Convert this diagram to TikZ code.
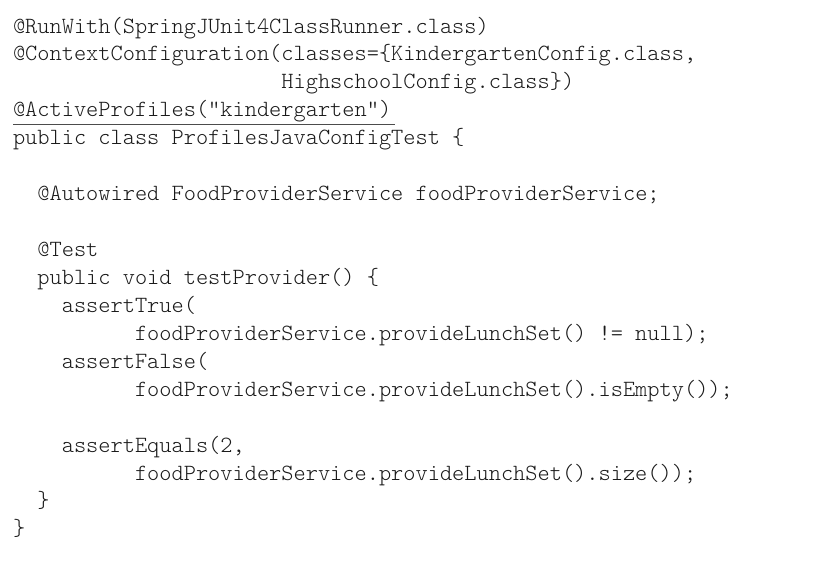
\documentclass[tikz,border=0pt]{standalone}
\usepackage{fontspec}
\setmonofont{Latin Modern Mono Light}
\usetikzlibrary{calc}
\tikzset{
  codeline/.style={anchor=base west, inner sep=0pt, outer sep=0pt, text=black!90,
    font=\ttfamily\fontsize{23.24}{28}\selectfont},
  uline/.style={draw=black!70, line width=1pt}
}
\newcommand{\colx}[1]{13+#1*12.2}
\newcommand{\rowy}[1]{33+#1*27.94}
\begin{document}
\begin{tikzpicture}[x=1pt,y=-1pt]
\useasboundingbox[fill=white] (0,0) rectangle (834,560);
\node[codeline] (l0) at ({\colx{0}},{\rowy{0}}) {@RunWith(SpringJUnit4ClassRunner.class)};
\node[codeline] (l1) at ({\colx{0}},{\rowy{1}}) {@ContextConfiguration(classes=\{KindergartenConfig.class,};
\node[codeline] (l2) at ({\colx{22}},{\rowy{2}}) {HighschoolConfig.class\})};
\node[codeline] (l3) at ({\colx{0}},{\rowy{3}}) {@ActiveProfiles("kindergarten")};
\node[codeline] (l4) at ({\colx{0}},{\rowy{4}}) {public class ProfilesJavaConfigTest \{};
\node[codeline] (l6) at ({\colx{2}},{\rowy{6}}) {@Autowired FoodProviderService foodProviderService;};
\node[codeline] (l8) at ({\colx{2}},{\rowy{8}}) {@Test};
\node[codeline] (l9) at ({\colx{2}},{\rowy{9}}) {public void testProvider() \{};
\node[codeline] (l10) at ({\colx{4}},{\rowy{10}}) {assertTrue(};
\node[codeline] (l11) at ({\colx{10}},{\rowy{11}}) {foodProviderService.provideLunchSet() != null);};
\node[codeline] (l12) at ({\colx{4}},{\rowy{12}}) {assertFalse(};
\node[codeline] (l13) at ({\colx{10}},{\rowy{13}}) {foodProviderService.provideLunchSet().isEmpty());};
\node[codeline] (l15) at ({\colx{4}},{\rowy{15}}) {assertEquals(2,};
\node[codeline] (l16) at ({\colx{10}},{\rowy{16}}) {foodProviderService.provideLunchSet().size());};
\node[codeline] (l17) at ({\colx{2}},{\rowy{17}}) {\}};
\node[codeline] (l18) at ({\colx{0}},{\rowy{18}}) {\}};
\coordinate (u0) at ($(l3.base west)+(0,8)$);
\coordinate (u1) at ($(l3.base east)+(4,8)$);
\draw[uline] (u0) -- (u1);
\end{tikzpicture}
\end{document}
